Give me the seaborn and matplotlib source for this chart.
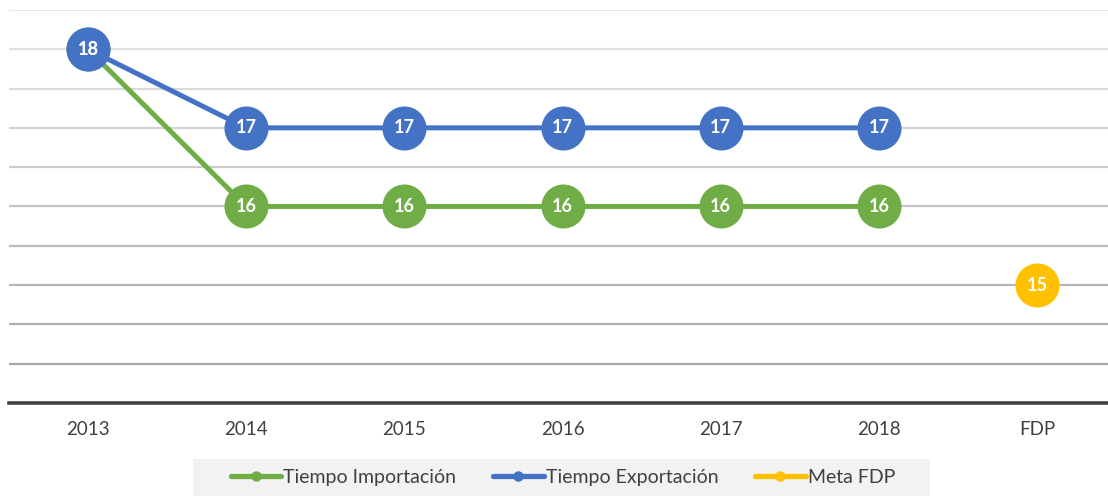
import numpy as np
import pandas as pd
import matplotlib
matplotlib.use("Agg")
import matplotlib.pyplot as plt
from matplotlib.lines import Line2D
from matplotlib.patches import Rectangle
import seaborn as sns

# data
categories = ["2013", "2014", "2015", "2016", "2017", "2018", "FDP"]
importacion = [18, 16, 16, 16, 16, 16]
exportacion = [18, 17, 17, 17, 17, 17]
meta_fdp = [15]

series_names = ["Tiempo Importación", "Tiempo Exportación", "Meta FDP"]
colors = ["#70AD47", "#4472C4", "#FFC000"]

rows = []
for x, v in zip(categories[:6], importacion):
    rows.append({"periodo": x, "valor": v, "serie": series_names[0]})
for x, v in zip(categories[:6], exportacion):
    rows.append({"periodo": x, "valor": v, "serie": series_names[1]})
rows.append({"periodo": categories[6], "valor": meta_fdp[0], "serie": series_names[2]})
df = pd.DataFrame(rows)

sns.set_theme(style="white")
plt.rcParams["font.family"] = ["Lato", "DejaVu Sans"]

fig = plt.figure(figsize=(11.08, 4.96), dpi=100)
ax = fig.add_axes([0.008, 0.1875, 0.9995, 0.7925])

sns.pointplot(data=df, x="periodo", y="valor", hue="serie",
              order=categories, hue_order=series_names, palette=colors,
              markers="o", markersize=29, linewidth=3.6, errorbar=None,
              ax=ax, legend=False)

# data labels inside the markers
for _, r in df.iterrows():
    xi = categories.index(r["periodo"])
    ax.text(xi, r["valor"], f"{r['valor']:.0f}", color="white",
            fontsize=13, fontweight="bold", ha="center", va="center",
            zorder=10)

ax.set_xlim(-0.5, len(categories) - 0.5)
ax.set_ylim(13.5, 18.5)
ax.set_yticks(np.arange(14, 18.51, 0.5))
ax.set_yticklabels([])
ax.tick_params(axis="y", length=0)
ax.tick_params(axis="x", length=0, labelsize=13.5, labelcolor="#404040", pad=13)
ax.set_xlabel("")
ax.set_ylabel("")

# gridlines getting darker towards the base
ax.grid(axis="y", linewidth=1.6)
grays = np.linspace(0.66, 0.91, len(ax.get_ygridlines()))
for gl, g in zip(ax.get_ygridlines(), grays):
    gl.set_color((g, g, g))
ax.set_axisbelow(True)

for side in ["top", "right", "left"]:
    ax.spines[side].set_visible(False)
ax.spines["bottom"].set_color("#404040")
ax.spines["bottom"].set_linewidth(2.6)

# legend background box (wider than the entries, as in the source)
fig.patches.append(Rectangle((193 / 1108, 0), 737 / 1108, 37 / 496,
                             transform=fig.transFigure, facecolor="#F2F2F2",
                             edgecolor="none", zorder=0))

handles = [Line2D([], [], color=c, linewidth=3.8, marker="o", markersize=6.5)
           for c in colors]
leg = fig.legend(handles, series_names, loc="center", bbox_to_anchor=(0.508, 0.038),
                 ncol=3, frameon=False, fontsize=14, handlelength=2.6,
                 handletextpad=0.1, columnspacing=1.9, borderpad=0.4,
                 borderaxespad=0)
for t in leg.get_texts():
    t.set_color("#404040")

fig.savefig("out.png", dpi=100)
